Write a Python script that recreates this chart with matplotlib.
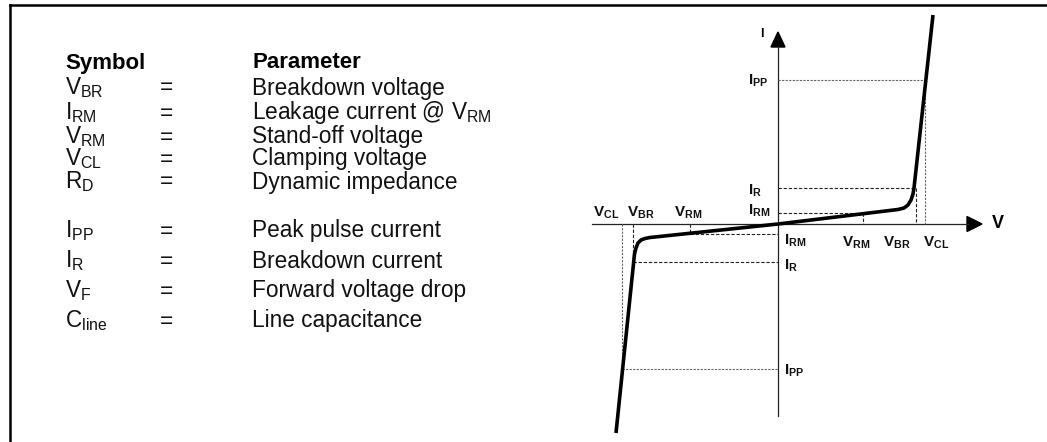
import matplotlib
matplotlib.use("Agg")
import matplotlib.pyplot as plt
from matplotlib.patches import Polygon

plt.rcParams["font.family"] = ["Liberation Sans", "DejaVu Sans"]
plt.rcParams["mathtext.fontset"] = "custom"
plt.rcParams["mathtext.rm"] = "Liberation Sans"
plt.rcParams["mathtext.it"] = "Liberation Sans"
plt.rcParams["mathtext.bf"] = "Liberation Sans:bold"

W, H = 1047, 442

# legend table (symbol, parameter)
symbols = [r"$\mathrm{V}_{\mathrm{BR}}$", r"$\mathrm{I}_{\mathrm{RM}}$", r"$\mathrm{V}_{\mathrm{RM}}$",
           r"$\mathrm{V}_{\mathrm{CL}}$", r"$\mathrm{R}_{\mathrm{D}}$", r"$\mathrm{I}_{\mathrm{PP}}$",
           r"$\mathrm{I}_{\mathrm{R}}$", r"$\mathrm{V}_{\mathrm{F}}$", r"$\mathrm{C}_{\mathrm{line}}$"]
parameters = ["Breakdown voltage", r"Leakage current @ $\mathrm{V}_{\mathrm{RM}}$", "Stand-off voltage",
              "Clamping voltage", "Dynamic impedance", "Peak pulse current",
              "Breakdown current", "Forward voltage drop", "Line capacitance"]
row_y = [88, 113, 137, 159, 182, 231, 261, 291, 321]

# I-V characteristic (arbitrary units, origin at the axes crossing)
curve_v = [-16.2, -14.35, -14.2, -14.0, -13.7, -13.3, -12.8, 0.0,
           12.0, 12.6, 13.0, 13.3, 13.5, 13.6, 15.5]
curve_i = [-20.9, -3.0, -2.4, -1.9, -1.6, -1.45, -1.35, 0.0,
           1.45, 1.6, 1.9, 2.4, 3.0, 3.6, 20.9]

# marked points: positive side / negative side
v_pos = {"RM": 8.5, "BR": 13.8, "CL": 14.7}
i_pos = {"RM": 1.15, "R": 3.6, "PP": 14.4}
v_neg = {"RM": -8.8, "BR": -14.5, "CL": -15.6}
i_neg = {"RM": -1.0, "R": -3.8, "PP": -14.5}

fig = plt.figure(figsize=(W / 100, H / 100), dpi=100)


def fx(x):
    return x / W


def fy(y):
    return 1 - y / H


# frame
fig.add_artist(plt.Line2D([fx(10), fx(10)], [fy(4.5), 0], color="black", lw=1.8))
fig.add_artist(plt.Line2D([fx(10), 1], [fy(4.5), fy(4.5)], color="black", lw=1.8))

# table
fig.text(fx(65), fy(63), "Symbol", fontsize=16, fontweight="bold", va="center")
fig.text(fx(252), fy(63), "Parameter", fontsize=16, fontweight="bold", va="center")
for sym, par, y in zip(symbols, parameters, row_y):
    fig.text(fx(65), fy(y), sym, fontsize=16.3, va="center", color="#111111")
    fig.text(fx(160), fy(y), "=", fontsize=16.3, va="center", color="#111111")
    fig.text(fx(252), fy(y), par, fontsize=16.3, va="center", color="#111111")

# diagram axes: 1 unit = 10 px, origin at (778, 224)
ax = fig.add_axes([0, 0, 1, 1])
ax.set_xlim(-77.8, (W - 778) / 10)
ax.set_ylim((224 - H) / 10, 22.4)
ax.axis("off")

axis_col = "#222222"
ax.plot([-18.6, 19.0], [0, 0], color=axis_col, lw=0.9)
ax.plot([0, 0], [-19.2, 17.8], color=axis_col, lw=0.9)
ax.add_patch(Polygon([[18.9, 0.75], [20.4, 0], [18.9, -0.75]], closed=True, color="black"))
ax.add_patch(Polygon([[-0.7, 17.7], [0, 19.2], [0.7, 17.7]], closed=True, color="black"))
ax.text(21.4, 0, "V", fontsize=13, fontweight="bold", va="center", ha="left")
ax.text(-1.6, 19.0, "I", fontsize=9, fontweight="bold", va="center", ha="center")

# dashed guides
fine = dict(color="#666666", lw=0.8, ls=(0, (2, 1.2)))
dash = dict(color="#222222", lw=0.8, ls=(0, (3, 1.6)))

ax.plot([0, v_pos["CL"]], [i_pos["PP"]] * 2, **fine)
ax.plot([v_pos["CL"]] * 2, [i_pos["PP"], 0], **fine)
ax.plot([0, v_pos["BR"]], [i_pos["R"]] * 2, **dash)
ax.plot([v_pos["BR"]] * 2, [i_pos["R"], 0], **dash)
ax.plot([0, v_pos["RM"]], [i_pos["RM"]] * 2, **dash)
ax.plot([v_pos["RM"]] * 2, [i_pos["RM"], 0], **dash)

ax.plot([v_neg["CL"], 0], [i_neg["PP"]] * 2, **fine)
ax.plot([v_neg["CL"]] * 2, [0, i_neg["PP"]], **fine)
ax.plot([v_neg["BR"], 0], [i_neg["R"]] * 2, **dash)
ax.plot([v_neg["BR"]] * 2, [0, i_neg["R"]], **dash)
ax.plot([v_neg["RM"], 0], [i_neg["RM"]] * 2, **dash)
ax.plot([v_neg["RM"]] * 2, [0, i_neg["RM"]], **dash)

# characteristic
ax.plot(curve_v, curve_i, color="black", lw=2.6, solid_capstyle="butt", solid_joinstyle="round")

# labels
lab = dict(fontsize=11, color="#111111")
ax.text(-3.0, 14.3, r"$\mathbf{I}_{\mathbf{PP}}$", ha="left", va="center", **lab)
ax.text(-3.0, 3.3, r"$\mathbf{I}_{\mathbf{R}}$", ha="left", va="center", **lab)
ax.text(-3.0, 1.3, r"$\mathbf{I}_{\mathbf{RM}}$", ha="left", va="center", **lab)
ax.text(0.6, -1.7, r"$\mathbf{I}_{\mathbf{RM}}$", ha="left", va="center", **lab)
ax.text(0.6, -4.2, r"$\mathbf{I}_{\mathbf{R}}$", ha="left", va="center", **lab)
ax.text(0.6, -14.7, r"$\mathbf{I}_{\mathbf{PP}}$", ha="left", va="center", **lab)

ax.text(7.8, -1.9, r"$\mathbf{V}_{\mathbf{RM}}$", ha="center", va="center", **lab)
ax.text(11.9, -1.9, r"$\mathbf{V}_{\mathbf{BR}}$", ha="center", va="center", **lab)
ax.text(15.8, -1.9, r"$\mathbf{V}_{\mathbf{CL}}$", ha="center", va="center", **lab)
ax.text(-17.2, 1.1, r"$\mathbf{V}_{\mathbf{CL}}$", ha="center", va="center", **lab)
ax.text(-13.7, 1.1, r"$\mathbf{V}_{\mathbf{BR}}$", ha="center", va="center", **lab)
ax.text(-9.0, 1.1, r"$\mathbf{V}_{\mathbf{RM}}$", ha="center", va="center", **lab)

fig.savefig("out.png", dpi=100, facecolor="white")
